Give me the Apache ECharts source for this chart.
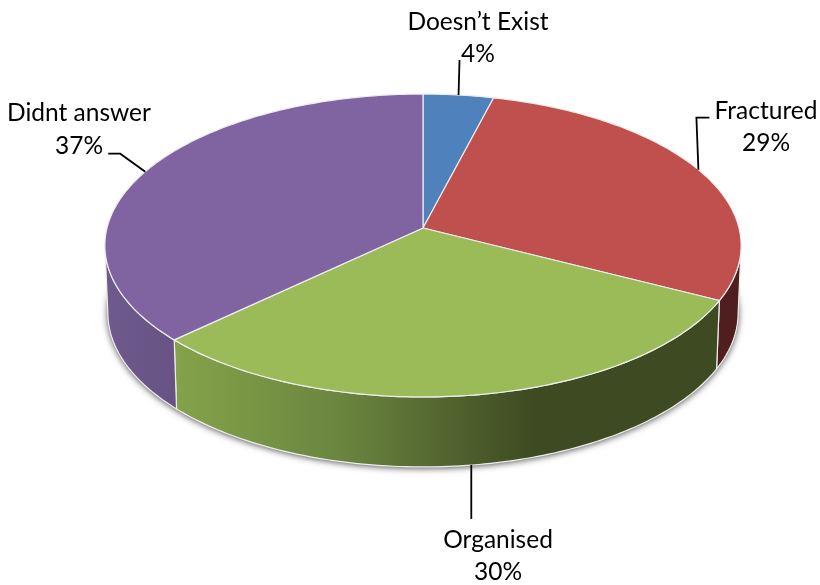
<!DOCTYPE html>
<html>
<head>
<meta charset="utf-8">
<style>html,body{margin:0;padding:0;background:#fff}#chart{width:820px;height:585px}</style>
<script src="https://cdn.jsdelivr.net/npm/echarts@6/dist/echarts.min.js"></script>
</head>
<body>
<div id="chart"></div>
<script>
var categories = ['Doesn\u2019t Exist', 'Fractured', 'Organised', 'Didnt answer'];
var values = [4.0, 28.6, 30.3, 37.1];
var tickLabels = ['4%', '29%', '30%', '37%'];

var topColors = ['#4F81BD', '#C0504D', '#9BBB59', '#8064A2'];
var edge = '#EDEDED';
var TOP = {cx: 423, apexY: 228, A: 123.1, C: -0.1155, D: 316};
var ELL_CY = 245.5, ELL_RY = 151.5, ELL_RX = 318;
var BOT = {cy: 313, rx: 315, ry: 154};
var RIGHT_LIMIT = 96.6, LEFT_LIMIT = 263.4;

function topPoint(deg) {
  var t = deg * Math.PI / 180, u = Math.sin(t), v = -Math.cos(t), d = 1 + TOP.C * v;
  return [TOP.cx + TOP.D * u / d, (TOP.A * v + TOP.apexY) / d];
}
function botPoint(deg) {
  var p = topPoint(deg);
  return [TOP.cx + (p[0] - TOP.cx) * BOT.rx / ELL_RX, BOT.cy + (p[1] - ELL_CY) * BOT.ry / ELL_RY];
}
function arc(fn, a, b) {
  var pts = [], n = Math.max(2, Math.ceil(Math.abs(b - a)));
  for (var i = 0; i <= n; i++) pts.push(fn(a + (b - a) * i / n));
  return pts;
}
var total = values.reduce(function (s, x) { return s + x; }, 0);
function startAngle(i) {
  var s = 0;
  for (var k = 0; k < i; k++) s += values[k];
  return s / total * 360;
}
function endAngle(i) { return startAngle(i) + values[i] / total * 360; }

var wallFill = [
  '#3B5A80',
  '#4E1F1E',
  {type: 'linear', x: 177, y: 0, x2: 715, y2: 0, global: true, colorStops: [
    {offset: 0, color: '#84A24A'},
    {offset: 0.3, color: '#6B863F'},
    {offset: 0.66, color: '#3E4B22'},
    {offset: 1, color: '#3E4B22'}
  ]},
  {type: 'linear', x: 105, y: 0, x2: 177, y2: 0, global: true, colorStops: [
    {offset: 0, color: '#6F5A8E'},
    {offset: 1, color: '#675283'}
  ]}
];

// leader path relative to the slice anchor, and label centres
var labelLayout = [
  {leader: [[0, 0], [1, -35]], anchorFn: topPoint, name: [478, 22], pct: [478, 54]},
  {leader: [[0, 0], [-2, -52], [11, -52]], anchorFn: topPoint, name: [766, 111], pct: [766, 143]},
  {leader: [[-1.5, 0], [-1.5, 54]], anchorFn: botPoint, name: [498, 540], pct: [498, 572]},
  {leader: [[0, 0], [-25, -18], [-37, -18]], anchorFn: topPoint, name: [79, 113], pct: [79, 146]}
];
var font = {fontFamily: 'Lato', fontSize: 24.5, fill: '#000', align: 'center', verticalAlign: 'middle'};

function renderShadow() {
  return {
    type: 'polygon',
    shape: {points: arc(botPoint, 0, 360)},
    style: {fill: '#fff', shadowBlur: 7, shadowColor: 'rgba(0,0,0,0.75)', shadowOffsetX: 0, shadowOffsetY: 1}
  };
}
function renderWall(params) {
  var i = params.dataIndex;
  var a = Math.max(startAngle(i), RIGHT_LIMIT), b = Math.min(endAngle(i), LEFT_LIMIT);
  if (b <= a) return {type: 'group', children: []};
  var pts = arc(topPoint, a, b).concat(arc(botPoint, b, a));
  return {type: 'polygon', shape: {points: pts}, style: {fill: wallFill[i], stroke: edge, lineWidth: 1.2}};
}
function renderTop(params) {
  var i = params.dataIndex;
  var pts = [[TOP.cx, TOP.apexY]].concat(arc(topPoint, startAngle(i), endAngle(i)));
  return {type: 'polygon', shape: {points: pts}, style: {fill: topColors[i], stroke: edge, lineWidth: 1.2, lineJoin: 'round'}};
}
function textEl(text, pos) {
  return {type: 'text', style: Object.assign({text: text, x: pos[0], y: pos[1]}, font)};
}
function renderLabel(params) {
  var i = params.dataIndex, l = labelLayout[i];
  var p = l.anchorFn((startAngle(i) + endAngle(i)) / 2);
  var pts = l.leader.map(function (o) { return [p[0] + o[0], p[1] + o[1]]; });
  return {type: 'group', children: [
    {type: 'polyline', shape: {points: pts}, style: {fill: 'none', stroke: '#000', lineWidth: 1.8}},
    textEl(categories[i], l.name),
    textEl(tickLabels[i], l.pct)
  ]};
}

var chart = echarts.init(document.getElementById('chart'), null, {renderer: 'canvas'});
var rows = values.map(function (v, i) { return [v, i]; });
function customSeries(render, data) {
  return {type: 'custom', coordinateSystem: 'none', renderItem: render, data: data, silent: true, animation: false};
}
chart.setOption({
  backgroundColor: '#fff',
  animation: false,
  series: [
    customSeries(renderShadow, [[1]]),
    customSeries(renderWall, rows),
    customSeries(renderTop, rows),
    customSeries(renderLabel, rows)
  ]
});
</script>
</body>
</html>
